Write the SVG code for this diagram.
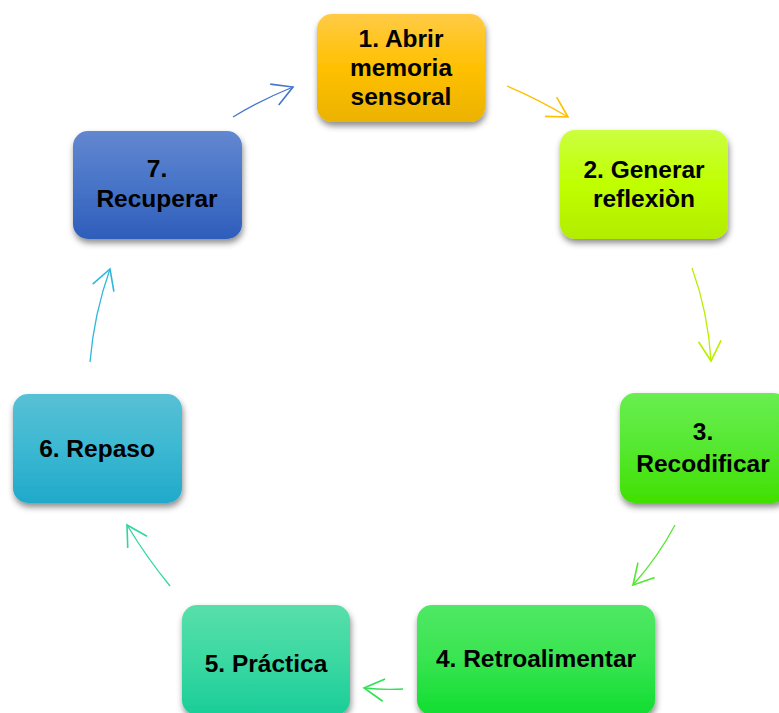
<svg xmlns="http://www.w3.org/2000/svg" width="779" height="713" viewBox="0 0 779 713">
<style>
.lbl{font-family:"Liberation Sans",Arial,sans-serif;font-weight:bold;font-size:24.5px;fill:#000;text-anchor:middle}
.c{fill:none;stroke-width:1.3}
.box{filter:url(#sh)}
</style>
<defs>
<filter id="sh" x="-20%" y="-20%" width="140%" height="150%"><feDropShadow dx="1" dy="4" stdDeviation="3" flood-color="#000" flood-opacity="0.45"/></filter>
<linearGradient id="g1" x1="0" y1="0" x2="0" y2="1"><stop offset="0" stop-color="#FFCB45"/><stop offset="0.5" stop-color="#FFC000"/><stop offset="1" stop-color="#EBB200"/></linearGradient>
<linearGradient id="g2" x1="0" y1="0" x2="0" y2="1"><stop offset="0" stop-color="#CBFF40"/><stop offset="0.5" stop-color="#C0FF00"/><stop offset="1" stop-color="#B2EC00"/></linearGradient>
<linearGradient id="g3" x1="0" y1="0" x2="0" y2="1"><stop offset="0" stop-color="#68EE50"/><stop offset="0.5" stop-color="#55E830"/><stop offset="1" stop-color="#40E000"/></linearGradient>
<linearGradient id="g4" x1="0" y1="0" x2="0" y2="1"><stop offset="0" stop-color="#50E865"/><stop offset="0.5" stop-color="#38E450"/><stop offset="1" stop-color="#10DD30"/></linearGradient>
<linearGradient id="g5" x1="0" y1="0" x2="0" y2="1"><stop offset="0" stop-color="#58DFAA"/><stop offset="0.5" stop-color="#3BD8A2"/><stop offset="1" stop-color="#1ACD98"/></linearGradient>
<linearGradient id="g6" x1="0" y1="0" x2="0" y2="1"><stop offset="0" stop-color="#58C0D4"/><stop offset="0.5" stop-color="#3CB8D2"/><stop offset="1" stop-color="#20A9CA"/></linearGradient>
<linearGradient id="g7" x1="0" y1="0" x2="0" y2="1"><stop offset="0" stop-color="#6287D0"/><stop offset="0.5" stop-color="#4874C8"/><stop offset="1" stop-color="#2E5DBA"/></linearGradient>
<marker id="m1" markerUnits="userSpaceOnUse" markerWidth="30" markerHeight="30" viewBox="-20 -12 24 24" refX="0" refY="0" orient="auto"><path d="M-16,-9 L0,0 L-16,9" fill="none" stroke="#FFC000" stroke-width="1.3"/></marker>
<marker id="m2" markerUnits="userSpaceOnUse" markerWidth="30" markerHeight="30" viewBox="-20 -12 24 24" refX="0" refY="0" orient="auto"><path d="M-16,-9 L0,0 L-16,9" fill="none" stroke="#B8F000" stroke-width="1.3"/></marker>
<marker id="m3" markerUnits="userSpaceOnUse" markerWidth="30" markerHeight="30" viewBox="-20 -12 24 24" refX="0" refY="0" orient="auto"><path d="M-16,-9 L0,0 L-16,9" fill="none" stroke="#55E830" stroke-width="1.3"/></marker>
<marker id="m4" markerUnits="userSpaceOnUse" markerWidth="30" markerHeight="30" viewBox="-20 -12 24 24" refX="0" refY="0" orient="auto"><path d="M-16,-9 L0,0 L-16,9" fill="none" stroke="#33E055" stroke-width="1.3"/></marker>
<marker id="m5" markerUnits="userSpaceOnUse" markerWidth="30" markerHeight="30" viewBox="-20 -12 24 24" refX="0" refY="0" orient="auto"><path d="M-16,-9 L0,0 L-16,9" fill="none" stroke="#2FD8A0" stroke-width="1.3"/></marker>
<marker id="m6" markerUnits="userSpaceOnUse" markerWidth="30" markerHeight="30" viewBox="-20 -12 24 24" refX="0" refY="0" orient="auto"><path d="M-16,-9 L0,0 L-16,9" fill="none" stroke="#30B8D8" stroke-width="1.3"/></marker>
<marker id="m7" markerUnits="userSpaceOnUse" markerWidth="30" markerHeight="30" viewBox="-20 -12 24 24" refX="0" refY="0" orient="auto"><path d="M-16,-9 L0,0 L-16,9" fill="none" stroke="#4477CC" stroke-width="1.3"/></marker>
</defs>
<rect width="779" height="713" fill="#fff"/>
<g id="connectors">
<path class="c" stroke="#FFC000" marker-end="url(#m1)" d="M507,86 Q538,99 568,117"/>
<path class="c" stroke="#B8F000" marker-end="url(#m2)" d="M692,268 Q708,312 711,361"/>
<path class="c" stroke="#55E830" marker-end="url(#m3)" d="M675,525 Q658,557 633,585"/>
<path class="c" stroke="#33E055" marker-end="url(#m4)" d="M403,689 Q383,690 364,688"/>
<path class="c" stroke="#2FD8A0" marker-end="url(#m5)" d="M170,586 Q147,558 127,525"/>
<path class="c" stroke="#30B8D8" marker-end="url(#m6)" d="M90,362 Q94,314 110,269"/>
<path class="c" stroke="#4477CC" marker-end="url(#m7)" d="M233,117 Q261,100 293,87"/>
</g>
<g id="n1"><rect class="box" x="317" y="14" width="168" height="108" rx="15" fill="url(#g1)"/><text class="lbl" x="401" y="47">1. Abrir</text><text class="lbl" x="401" y="76">memoria</text><text class="lbl" x="401" y="105">sensoral</text></g>
<g id="n2"><rect class="box" x="560" y="130" width="168" height="109" rx="15" fill="url(#g2)"/><text class="lbl" x="644" y="178">2. Generar</text><text class="lbl" x="644" y="207">reflexiòn</text></g>
<g id="n3"><rect class="box" x="620" y="393" width="168" height="110" rx="15" fill="url(#g3)"/><text class="lbl" x="703" y="440">3.</text><text class="lbl" x="703" y="472">Recodificar</text></g>
<g id="n4"><rect class="box" x="417" y="605" width="238" height="110" rx="15" fill="url(#g4)"/><text class="lbl" x="536" y="667">4. Retroalimentar</text></g>
<g id="n5"><rect class="box" x="182" y="605" width="168" height="110" rx="15" fill="url(#g5)"/><text class="lbl" x="266" y="672">5. Práctica</text></g>
<g id="n6"><rect class="box" x="13" y="394" width="169" height="109" rx="15" fill="url(#g6)"/><text class="lbl" x="97" y="457">6. Repaso</text></g>
<g id="n7"><rect class="box" x="73" y="131" width="169" height="108" rx="15" fill="url(#g7)"/><text class="lbl" x="157" y="177">7.</text><text class="lbl" x="157" y="207">Recuperar</text></g>
</svg>
